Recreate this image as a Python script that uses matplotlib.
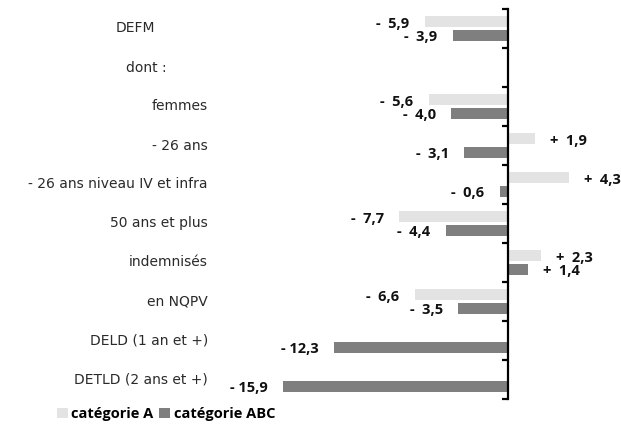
import matplotlib
matplotlib.use('Agg')
import matplotlib.pyplot as plt
import matplotlib.transforms as mtransforms
from matplotlib.ticker import FixedLocator, NullLocator
import numpy as np

categories = ["DEFM", "dont :", "femmes", "- 26 ans", "- 26 ans niveau IV et infra",
              "50 ans et plus", "indemnisés", "en NQPV", "DELD (1 an et +)",
              "DETLD (2 ans et +)"]
cat_a = [-5.9, np.nan, -5.6, 1.9, 4.3, -7.7, 2.3, -6.6, np.nan, np.nan]
cat_abc = [-3.9, np.nan, -4.0, -3.1, -0.6, -4.4, 1.4, -3.5, -12.3, -15.9]
series_names = ["catégorie A", "catégorie ABC"]

plt.rcParams['font.family'] = ['Open Sans', 'DejaVu Sans']

W, H = 621, 426
fig = plt.figure(figsize=(W / 100, H / 100), dpi=100)
ax_left, ax_right, ax_top, ax_bottom = 215, 600, 9, 399
ax = fig.add_axes([ax_left / W, 1 - ax_bottom / H,
                   (ax_right - ax_left) / W, (ax_bottom - ax_top) / H])
px_per_unit = 14.15
zero_px = 508
ax.set_xlim(-(zero_px - ax_left) / px_per_unit, (ax_right - zero_px) / px_per_unit)
ax.set_ylim(len(categories) - 0.5, -0.5)

y = np.arange(len(categories))
off, h = 0.185, 0.27
col_a, col_abc = '#e3e3e3', '#7f7f7f'
ax.barh(y - off, cat_a, height=h, color=col_a, label=series_names[0])
ax.barh(y + off, cat_abc, height=h, color=col_abc, label=series_names[1])


def fmt(v):
    s = '-' if v < 0 else '+'
    return f"{s}  {abs(v):.1f}".replace('.', ',')


for vals, dy in ((cat_a, -off + 0.06), (cat_abc, off + 0.03)):
    for yi, v in zip(y, vals):
        if np.isnan(v):
            continue
        txt = fmt(v)
        if abs(v) >= 10:
            txt = txt.replace('  ', ' ')
        ax.annotate(txt, (v, yi + dy), xytext=(-11 if v < 0 else 11, 0),
                    textcoords='offset points', ha='right' if v < 0 else 'left',
                    va='center', fontsize=10.5, fontweight='bold', color='#111111',
                    annotation_clip=False)

# category labels
trans = mtransforms.blended_transform_factory(fig.transFigure, ax.transData)
label_right = {"DEFM": 155, "dont :": 167}
for yi, c in zip(y, categories):
    ax.text(label_right.get(c, 208) / W, yi, c, transform=trans, ha='right',
            va='center', fontsize=10, color='#2a2a2a', family='DejaVu Sans')

for s in ('top', 'right', 'bottom'):
    ax.spines[s].set_visible(False)
ax.spines['left'].set_position(('data', 0))
ax.spines['left'].set_linewidth(1.6)
ax.spines['left'].set_color('black')
ax.xaxis.set_visible(False)
ax.yaxis.set_major_locator(NullLocator())
ax.yaxis.set_minor_locator(FixedLocator(np.arange(len(categories) + 1) - 0.5))
ax.tick_params(axis='y', which='minor', direction='out', length=4, width=1.6,
               color='black', labelleft=False)

leg = fig.legend(loc='center', bbox_to_anchor=(166 / W, 1 - 414 / H), ncol=2,
                 frameon=False, handlelength=0.75, handleheight=0.75,
                 handletextpad=0.25, columnspacing=0.4,
                 prop={'weight': 'bold', 'size': 10.5})

fig.savefig('out.png', dpi=100)
